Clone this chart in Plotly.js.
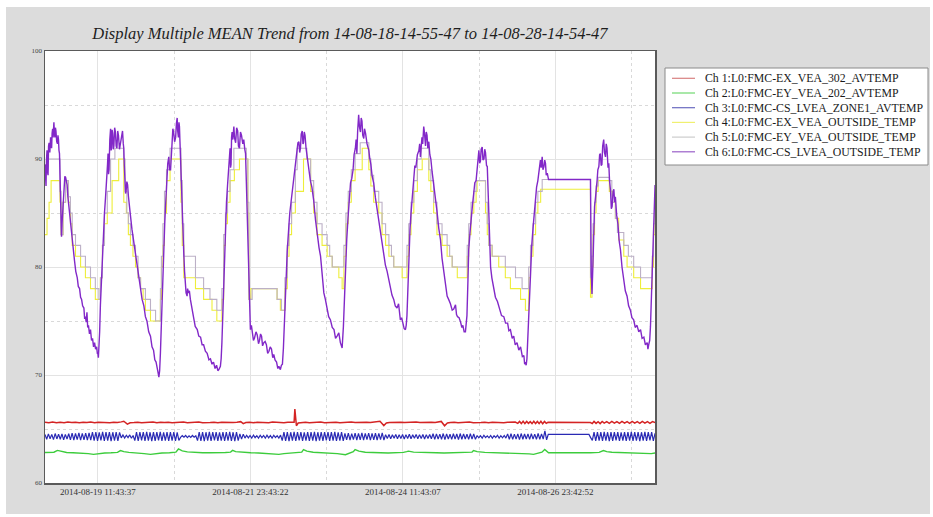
<!DOCTYPE html>
<html>
<head>
<meta charset="utf-8">
<script src="https://cdn.plot.ly/plotly-3.0.1.min.js"></script>
<style>
  html, body { margin: 0; padding: 0; background: #ffffff; }
  #chart { position: absolute; left: 6px; top: 7px; width: 924px; height: 507px; }
</style>
</head>
<body>
<div id="chart"></div>
<script>
// ---------------- DATA ----------------
const startTime = '2014-08-18 14:55:47';
const endTime = '2014-08-28 14:54:47';
const titleText = 'Display Multiple MEAN Trend from 14-08-18-14-55-47 to 14-08-28-14-54-47';

const seriesNames = [
  'Ch 1:L0:FMC-EX_VEA_302_AVTEMP',
  'Ch 2:L0:FMC-EY_VEA_202_AVTEMP',
  'Ch 3:L0:FMC-CS_LVEA_ZONE1_AVTEMP',
  'Ch 4:L0:FMC-EX_VEA_OUTSIDE_TEMP',
  'Ch 5:L0:FMC-EY_VEA_OUTSIDE_TEMP',
  'Ch 6:L0:FMC-CS_LVEA_OUTSIDE_TEMP'
];

const xTickLabels = ['2014-08-19 11:43:37', '2014-08-21 23:43:22', '2014-08-24 11:43:07', '2014-08-26 23:42:52'];
const yTickValues = [60, 70, 80, 90, 100];

// [hours since start, value]
const ch1Points = [[0,65.62],[1.5,65.57],[3,65.64],[4.5,65.59],[6,65.63],[7.5,65.58],[9,65.65],[10.5,65.6],[12,65.63],[13.5,65.57],[15,65.62],[16.5,65.6],[18,65.65],[19.5,65.58],[21,65.62],[22.5,65.6],[24,65.64],[25.5,65.59],[27,65.62],[28.5,65.6],[30,65.66],[31.0,65.72],[32.4,65.45],[33.5,65.58],[35,65.6],[36.5,65.63],[38,65.58],[39.5,65.62],[41,65.6],[42.5,65.64],[44,65.57],[45.5,65.62],[47,65.6],[48.5,65.63],[50,65.58],[51.5,65.62],[53,65.6],[54.5,65.64],[56,65.59],[57.5,65.62],[59,65.6],[60.5,65.65],[62,65.58],[63.5,65.62],[65,65.6],[66.5,65.63],[68,65.57],[69.5,65.62],[71,65.6],[72.5,65.64],[74,65.6],[75.5,65.63],[77,65.68],[78.0,65.5],[79,65.6],[80.5,65.62],[82,65.58],[83.5,65.63],[85,65.6],[86.5,65.62],[88,65.58],[89.5,65.64],[91,65.6],[92.5,65.62],[94,65.58],[95.5,65.63],[97,65.6],[98.0,65.62],[98.3,66.85],[98.6,65.6],[98.9,65.3],[99.6,65.55],[101,65.6],[102.5,65.63],[104,65.58],[105.5,65.62],[107,65.6],[108.5,65.64],[110,65.59],[111.5,65.62],[113,65.6],[114.5,65.63],[116,65.58],[117.5,65.62],[119,65.6],[120.5,65.64],[122,65.6],[123.5,65.62],[125,65.58],[126.5,65.63],[128,65.6],[129.5,65.64],[130.8,65.68],[131.8,65.72],[133.3,65.32],[134.3,65.55],[135.5,65.6],[137,65.62],[138.5,65.58],[140,65.63],[141.5,65.6],[143,65.62],[144.5,65.58],[146,65.64],[147.5,65.6],[149,65.62],[150.5,65.58],[152,65.63],[153.5,65.6],[155,65.65],[155.9,65.7],[157.2,65.3],[158.3,65.55],[159.5,65.6],[161,65.63],[162.5,65.58],[164,65.62],[165.5,65.6],[167,65.64],[168.5,65.58],[170,65.62],[171.5,65.6],[173,65.63],[174.5,65.58],[176,65.62],[177.5,65.6],[179,65.64],[180.5,65.58],[182,65.62],[183.5,65.6],[185,65.64],[186,65.52],[186.7,65.7],[187.4,65.5],[188.1,65.72],[188.8,65.5],[189.5,65.7],[190.2,65.52],[190.9,65.68],[191.6,65.5],[192.3,65.72],[193,65.5],[193.7,65.7],[194.4,65.5],[195.1,65.72],[195.8,65.48],[196.5,65.7],[197.2,65.52],[197.9,65.62],[214.6,65.6],[215.3,65.5],[216,65.7],[216.8,65.52],[217.6,65.68],[218.4,65.5],[219.2,65.7],[220,65.54],[221,65.68],[222,65.52],[223,65.7],[224,65.54],[225,65.68],[226,65.52],[227,65.7],[228,65.55],[229,65.68],[230,65.52],[231,65.7],[232,65.55],[233,65.68],[234,65.52],[235,65.7],[236,65.55],[237,65.68],[238,65.52],[239,65.68],[240,65.6]];

const ch2Points = [[0,62.82],[2,62.8],[3.5,62.85],[4.9,63.02],[6.5,62.9],[8.5,62.82],[11,62.8],[14,62.78],[17,62.72],[19.1,62.65],[21,62.72],[23.5,62.78],[26,62.8],[28.5,62.84],[29.7,63.0],[31,62.9],[33,62.84],[36,62.8],[39,62.72],[41.5,62.65],[43.5,62.72],[46,62.78],[49,62.8],[51.5,62.86],[52.5,63.15],[54,62.98],[56,62.88],[59,62.82],[62,62.8],[65,62.8],[68,62.78],[71,62.82],[73,62.86],[73.8,63.02],[75,62.9],[78,62.82],[81,62.8],[84,62.78],[87,62.74],[90,62.7],[92,62.65],[94,62.72],[96.5,62.78],[99,62.82],[101,62.86],[101.7,63.1],[103,62.95],[105.5,62.85],[109,62.8],[112,62.78],[115,62.72],[118.2,62.62],[120,62.75],[121.3,62.9],[122,63.1],[123.5,62.95],[126,62.85],[129,62.8],[132,62.8],[135,62.78],[138,62.8],[141,62.84],[142.3,62.9],[143,62.95],[145,62.86],[148,62.82],[151,62.8],[154,62.8],[157,62.78],[160,62.8],[163,62.8],[166,62.82],[168,62.86],[168.6,63.0],[170,62.9],[173,62.84],[176,62.82],[179,62.8],[182,62.8],[185,62.78],[188,62.75],[190.5,62.7],[192.2,62.65],[194,62.75],[195.5,62.85],[196.6,63.1],[197.5,62.95],[198.1,62.8],[214.6,62.8],[216,62.8],[218,62.84],[219.7,63.0],[221,62.9],[223,62.85],[226,62.82],[229,62.8],[232,62.78],[235,62.76],[237,62.72],[238.5,62.72],[240,62.78]];

// Ch 3 sampled every 40 minutes from the start
const ch3StepMinutes = 40;
const ch3Values = [
64.5,64.05,64.55,64.1,64.5,64.02,64.58,64.08,64.52,64.05,64.55,64.0,64.5,64.08,64.56,
64.0,64.62,63.98,64.6,64.02,64.64,63.96,64.6,64.0,64.62,63.97,64.65,63.98,64.7,63.92,
64.72,63.9,64.68,63.94,64.74,63.9,64.7,63.92,64.72,63.88,64.7,63.93,64.72,63.9,64.68,
64.18,64.44,64.16,64.42,64.2,64.45,64.15,64.4,63.92,64.7,63.9,64.72,63.94,64.7,63.9,
64.74,63.92,64.7,63.88,64.72,63.9,64.7,63.94,64.74,63.9,64.68,63.92,64.72,63.9,64.7,
63.92,64.72,63.9,64.68,63.94,64.22,64.38,64.24,64.4,64.2,64.36,64.22,64.4,64.24,64.38,
63.92,64.7,63.9,64.72,63.88,64.7,63.92,64.74,63.9,64.7,63.94,64.72,63.9,64.68,63.92,
64.72,63.9,64.7,63.92,64.74,63.9,64.7,63.88,64.72,63.92,64.55,64.06,64.52,64.16,64.42,
64.18,64.4,64.15,64.44,64.2,64.38,64.16,64.42,64.2,64.4,64.15,64.43,64.18,64.4,64.16,
64.42,64.2,64.38,64.16,64.44,63.92,64.7,63.9,64.72,63.88,64.7,63.92,64.74,63.9,64.7,
63.94,64.72,63.9,64.68,63.92,64.72,63.9,64.7,63.92,64.74,63.88,64.7,63.92,64.72,63.9,
64.7,63.94,64.72,63.9,64.7,63.92,64.74,63.9,64.68,63.92,64.72,63.9,64.6,64.0,64.62,
63.98,64.58,64.02,64.62,63.98,64.6,64.0,64.64,63.98,64.6,64.02,64.62,63.97,64.6,64.0,
64.62,63.98,64.6,64.02,64.64,63.98,64.48,64.12,64.5,64.1,64.46,64.14,64.5,64.1,64.48,
64.12,64.5,64.08,64.48,64.12,64.52,64.1,64.46,64.14,64.5,64.1,64.48,64.12,64.5,64.08,
64.48,64.12,64.5,64.1,64.56,64.04,64.55,64.06,64.52,64.05,64.58,64.02,64.55,64.08,64.52,
64.04,64.56,64.06,64.54,64.02,64.58,64.05,64.55,64.08,64.52,64.04,64.56,64.06,64.54,64.04,
64.4,64.18,64.38,64.16,64.42,64.2,64.36,64.18,64.4,64.15,64.38,64.2,64.42,64.16,64.38,
64.18,64.4,64.16,64.55,64.05,64.56,64.04,64.52,64.06,64.55,64.02,64.58,64.05,64.54,64.08,
64.55,64.04,64.56,64.06,64.52,64.05,64.58,64.04,64.55,64.06,64.82,64.0,64.5,64.5,64.5,
64.5,64.5,64.5,64.5,64.5,64.5,64.5,64.5,64.5,64.5,64.5,64.5,64.5,64.5,64.5,
64.5,64.5,64.5,64.5,64.5,64.5,64.5,64.2,63.95,64.7,63.9,64.72,63.92,64.7,63.9,
64.74,63.92,64.7,63.88,64.72,63.9,64.7,63.94,64.72,63.9,64.68,63.92,64.72,63.9,64.7,
63.92,64.74,63.9,64.7,63.92,64.72,63.88,64.7,63.92,64.74,63.9,64.7,63.94,64.72,63.9,
64.6
];

// step series [hours since start, value]
const ch4Points = [[0,83],[0.8,84.5],[1.6,86],[2.4,88],[5.9,86],[6.3,83],[7.1,86],[8.1,88],[9.2,86],[10.0,84],[10.7,82],[12.0,81],[14.0,80],[15.9,79],[17.9,78],[19.8,77],[21.8,79],
[22.6,82],[23.4,84],[24.5,85],[26.4,88],[29.0,90],[31.0,86],[32.0,85],[32.8,83],[33.6,82],[34.6,81],[35.6,80],[36.6,79],[37.6,78],[38.6,77],[39.5,76],[41.5,75],[45.4,77],
[45.8,80],[46.4,82],[47.0,85],[47.8,88],[49.2,90],[53.5,86],[54.0,82],[54.6,79],[59.2,78],[62.4,77],[65.7,76],[67.6,75],[69.6,77],
[70.3,82],[71.0,84],[71.8,86],[72.8,88],[74.5,89],[76.5,90],[79.8,85],[80.2,77],[81.0,78],[91.3,77],[92.6,76],[94.4,78],
[95.3,81],[96.0,83],[97.0,85],[98.5,87],[101.7,90],[104.5,87],[105.7,85],[107.0,83],[109.0,82],[111.0,81],[113.0,80],[115.6,79],[116.9,78],[117.6,81],
[118.4,84],[119.3,86],[120.5,88],[122.0,89],[124.8,91],[127.4,89],[128.2,87.5],[129.3,86],[131.3,85],[132.6,83],[134.0,82],[135.3,81],[137.2,80],[140.5,79],[142.4,81],
[143.1,83],[144.0,85],[145.1,87],[146.5,89],[148.4,90],[151.0,88],[151.8,87],[152.9,85],[154.2,83],[156.2,82],[158.2,81],[160.2,80],[162.2,79],[166.1,81],
[166.7,83],[167.6,85],[168.7,86],[169.6,87],[170.0,88],[173.3,85],[174.0,83],[174.6,82],[175.9,81],[178.5,80],[181.1,79],[183.1,78],[187.1,77],[189.0,76],[190.3,79],
[191.0,81],[192.0,83],[193.0,85],[193.9,86],[195.0,87.2],[214.6,77.2],
[215.2,80],[215.6,83],[216.2,85],[216.8,87],[217.6,88],[222.0,87],[223.2,86],[224.4,84.5],[225.7,82.5],[227.7,81],[229.0,80],[231.6,79],[234.3,78],[238.9,80],[239.4,83],[240,85]];

const ch5Points = [[0,89],[1.2,90],[5.9,87],[6.3,83],[7.1,86],[8.1,88],[9.2,86.5],[10.0,85],[10.7,83],[12.0,82],[14.0,81],[15.9,80],[17.9,79],[19.8,78],[21.2,77],[21.8,79],
[22.6,82],[23.4,85],[24.5,87],[25.8,90],[27.5,91],[30.9,90],[31.5,87],[32.2,85],[32.8,84],[33.6,83],[34.6,82],[35.6,81],[36.6,79],[37.6,78],[39.5,77],[41.5,76],[43.5,75],[45.4,78],
[45.8,81],[46.4,84],[47.0,87],[47.8,89],[49.2,91],[53.5,88],[54.0,84],[54.6,81],[59.2,79],[62.4,78],[64.9,77],[67.6,76],[69.6,78],
[70.3,83],[71.0,85],[71.8,87],[72.8,89],[74.3,91],[79.2,90],[79.8,86],[80.2,77],[81.5,78],[91.3,77],[93.0,76],[94.4,79],
[95.3,82],[96.0,84],[97.0,86],[98.5,89],[99.2,91],[103.0,90],[104.5,88],[105.7,86],[107.0,84],[109.0,83],[111.0,82],[112.0,81],[113.0,80],[117.6,82],
[118.4,85],[119.3,87],[120.5,89],[122.0,90.5],[124.0,91.5],[127.4,90],[128.2,88.5],[129.3,87],[131.3,86],[132.6,84],[134.0,83],[135.3,82],[136.3,81],[137.2,80],[142.4,82],
[143.1,84],[144.0,86],[145.1,88],[146.5,90],[148.0,91],[151.0,89],[151.8,88],[152.9,86],[154.2,84],[156.2,83],[158.2,82],[159.2,81],[160.2,80],[166.1,82],
[166.7,84],[167.6,86],[168.7,87],[169.6,88],[173.3,86],[174.0,84],[174.6,82],[175.9,81],[181.1,80],[185.1,79],[187.7,78],[190.3,80],
[191.0,82],[192.0,84],[193.0,86],[193.9,87],[195.6,88.1],[214.6,79],
[215.2,81],[215.6,84],[216.2,86],[216.8,87.5],[217.6,88.3],[222.0,88],[223.0,86],[224.4,84.5],[225.2,83.2],[227.7,82],[229.5,81],[231.6,80],[234.3,79],[238.9,81],[239.4,84],[240,86]];

const ch6Points = [
[0,89.5],[0.2,88.0],[0.4,87.5],[0.6,90.0],[0.8,90.8],[1.0,88.8],[1.2,88.5],[1.4,91.2],[1.6,91.5],[1.9,90.6],[2.2,92.0],[2.4,91.2],[2.6,91.0],[2.8,92.4],[3.0,92.8],[3.2,92.0],[3.5,93.4],[3.7,92.4],[3.9,92.0],[4.1,92.9],[4.3,92.6],[4.6,91.6],[4.9,91.4],[5.1,92.2],[5.3,91.8],[5.5,90.8],[5.7,90.5],[5.9,88.5],[6.1,86.0],[6.3,84.5],[6.5,82.8],[6.7,84.0],[6.9,85.0],[7.2,86.6],[7.5,87.5],[7.8,88.4],[8.1,88.3],[8.4,88.0],[8.7,87.6],[9.0,86.5],[9.2,86.0],[9.6,85.3],[10.0,84.5],[10.4,83.2],[10.8,82.5],[11.2,81.2],[11.6,80.6],[12.1,79.6],[12.7,79.0],[13.1,78.2],[13.6,78.0],[14.0,77.2],[14.4,77.0],[14.8,76.4],[15.3,76.2],[15.6,75.2],[15.9,75.4],[16.2,74.9],[16.5,75.8],[16.8,74.4],[17.1,74.6],[17.5,73.8],[17.9,74.2],[18.3,73.2],[18.7,73.4],[19.1,72.6],[19.5,73.0],[19.9,72.4],[20.3,72.6],[20.6,72.0],[20.8,72.0],[21.0,71.6],[21.2,72.4],
[21.5,74.0],[21.8,76.5],[22.2,79.0],[22.5,81.0],[22.8,82.6],[23.0,84.0],[23.4,85.0],[23.8,86.4],[24.1,87.4],[24.4,88.0],[24.6,89.5],[24.8,90.5],[25.0,88.6],[25.2,89.0],[25.5,91.8],[25.8,92.8],[26.0,90.8],[26.2,91.0],[26.4,92.7],[26.6,92.4],[26.9,90.9],[27.1,91.2],[27.4,92.9],[27.7,92.5],[28.0,91.2],[28.3,91.0],[28.6,92.6],[28.9,92.2],[29.3,90.9],[29.7,91.5],[30.1,92.2],[30.5,92.6],[30.8,91.4],[31.0,91.0],[31.2,89.4],[31.5,88.0],[31.7,86.8],[31.9,87.0],[32.2,87.9],[32.5,87.6],[32.8,86.6],[33.0,86.0],[33.3,85.4],[33.6,84.8],[34.2,83.5],[34.8,82.5],[35.5,81.0],[36.3,80.0],[36.9,78.8],[37.6,78.0],[38.2,77.0],[38.9,76.4],[39.5,75.4],[40.1,75.0],[40.8,74.0],[41.5,73.6],[42.1,72.6],[42.7,72.3],[43.2,71.4],[43.7,71.2],[44.1,70.4],[44.5,70.2],[44.8,69.8],[45.1,70.4],
[45.4,72.0],[45.7,74.5],[46.0,77.0],[46.4,79.8],[46.7,81.9],[47.1,84.0],[47.4,85.5],[47.7,87.2],[48.0,88.5],[48.3,89.6],[48.7,90.2],[49.0,89.0],[49.4,89.0],[49.7,91.0],[50.0,91.5],[50.3,92.8],[50.6,92.5],[51.0,91.6],[51.4,92.0],[51.7,93.3],[52.0,93.8],[52.2,92.6],[52.5,92.0],[52.7,93.4],[52.9,93.0],[53.1,91.6],[53.3,90.0],[53.6,88.0],[53.9,86.0],[54.2,83.5],[54.6,81.3],[54.9,79.6],[55.2,78.5],[55.5,77.6],[55.9,77.3],[56.1,78.0],[56.4,77.6],[56.8,77.8],[57.2,77.0],[57.8,76.0],[58.4,75.4],[59.1,74.5],[59.9,74.2],[60.5,73.6],[61.2,73.5],[61.8,72.8],[62.4,72.8],[63.1,72.2],[63.8,72.0],[64.5,71.4],[65.1,71.5],[65.7,71.0],[66.3,71.2],[66.9,70.6],[67.5,70.9],[68.0,70.4],[68.4,70.5],[69.0,70.8],
[69.3,71.5],[69.6,73.0],[70.0,76.0],[70.3,79.0],[70.7,82.0],[71.0,84.0],[71.4,86.0],[71.8,87.5],[72.0,88.2],[72.3,88.7],[72.5,90.4],[72.8,91.0],[73.0,89.2],[73.2,89.5],[73.4,92.0],[73.6,92.5],[73.9,91.8],[74.3,93.0],[74.6,91.9],[75.0,91.5],[75.4,92.9],[75.8,92.6],[76.1,91.2],[76.5,91.0],[76.9,92.5],[77.3,92.2],[77.8,91.4],[78.2,91.8],[78.6,90.9],[78.9,90.5],[79.2,88.0],[79.5,85.0],[79.9,80.5],[80.2,77.3],[80.5,75.2],[80.8,74.2],[81.2,74.6],[81.6,74.0],[82.0,73.2],[82.4,73.4],[83.0,74.0],[83.5,73.7],[84.0,72.9],[84.4,73.2],[84.8,73.8],[85.2,73.6],[85.6,72.7],[86.1,73.0],[86.6,73.1],[87.1,72.8],[87.6,72.0],[88.1,72.2],[88.6,72.6],[89.1,72.4],[89.6,71.6],[90.0,71.9],[90.5,71.4],[91.1,71.2],[91.6,70.6],[92.0,70.8],[92.6,70.5],[93.0,70.9],[93.4,71.0],
[93.8,72.5],[94.2,74.5],[94.8,78.5],[95.3,81.5],[95.6,83.0],[96.0,84.0],[96.3,85.0],[96.6,85.6],[97.0,86.4],[97.4,87.0],[97.7,88.0],[98.1,88.5],[98.6,89.8],[99.2,90.5],[99.5,91.5],[99.9,91.6],[100.2,90.6],[100.5,91.0],[100.8,92.3],[101.2,92.6],[101.5,91.4],[101.7,91.5],[102.0,92.5],[102.3,92.2],[102.7,91.0],[103.1,90.2],[103.7,89.0],[104.4,88.0],[105.0,87.4],[105.7,86.2],[106.4,84.4],[107.1,83.0],[107.8,81.8],[108.4,81.0],[109.0,79.0],[109.7,77.6],[110.3,77.0],[110.9,76.4],[111.6,75.4],[112.3,75.1],[113.0,74.4],[113.7,74.2],[114.3,73.4],[114.9,73.6],[115.6,73.9],[116.2,73.0],[116.6,72.8],[116.9,72.5],
[117.4,74.5],[117.8,77.5],[118.2,80.0],[118.7,82.5],[119.2,84.5],[119.7,86.4],[120.2,87.8],[120.7,88.2],[121.2,89.0],[121.6,90.4],[122.1,91.0],[122.4,91.8],[122.7,90.5],[123.0,92.6],[123.4,94.1],[123.7,93.0],[124.1,92.5],[124.4,93.8],[124.7,93.5],[125.0,92.2],[125.4,91.9],[125.7,92.8],[126.1,92.4],[126.7,91.4],[127.4,90.8],[127.8,90.0],[128.2,89.5],[128.7,88.4],[129.3,87.8],[130.0,86.4],[130.6,85.4],[131.3,84.2],[132.0,83.4],[132.6,82.0],[133.2,81.2],[133.9,80.2],[134.6,79.6],[135.2,78.8],[135.9,78.2],[136.5,77.4],[137.2,77.0],[137.8,76.4],[138.5,76.2],[139.1,76.6],[139.8,75.1],[140.3,75.3],[140.8,74.8],[141.3,74.3],[141.8,74.2],
[142.1,74.6],[142.4,75.5],[142.8,78.5],[143.1,81.6],[143.6,83.5],[144.0,85.0],[144.5,86.8],[145.1,88.4],[145.5,89.4],[145.9,89.2],[146.5,90.4],[147.1,90.8],[147.4,91.4],[147.7,90.2],[148.0,91.6],[148.3,92.0],[148.6,91.4],[149.0,93.0],[149.3,92.4],[149.7,91.2],[150.0,92.5],[150.3,92.2],[150.6,91.0],[151.0,91.6],[151.4,90.4],[151.8,90.0],[152.3,88.8],[152.9,87.8],[153.5,86.6],[154.2,85.2],[154.9,83.6],[155.6,82.5],[156.2,80.8],[156.9,79.5],[157.5,78.2],[158.2,77.3],[158.8,77.0],[159.5,76.6],[160.2,76.0],[160.8,76.1],[161.5,76.5],[161.9,75.6],[162.3,75.4],[162.9,75.3],[163.5,74.9],[164.0,74.4],[164.4,74.6],[164.9,74.0],[165.4,74.0],
[166.0,75.5],[166.4,78.8],[166.7,81.6],[167.2,83.2],[167.6,84.5],[168.2,85.8],[168.7,86.9],[169.1,87.8],[169.6,88.0],[170.2,89.8],[170.7,90.8],[171.0,89.6],[171.3,89.8],[171.6,90.9],[172.0,91.1],[172.3,89.9],[172.7,90.0],[173.0,90.9],[173.3,90.6],[173.7,89.4],[174.0,89.3],[174.4,86.5],[174.7,84.0],[175.0,81.8],[175.3,80.0],[175.8,79.0],[176.3,78.4],[176.8,77.6],[177.2,77.2],[178.0,76.8],[178.8,76.2],[179.6,75.5],[180.5,75.4],[181.2,74.8],[182.0,74.8],[182.5,74.1],[183.1,74.2],[183.8,73.4],[184.4,73.6],[185.0,72.8],[185.7,73.0],[186.4,72.3],[187.1,72.6],[187.8,71.7],[188.4,71.8],[188.7,71.0],[189.0,71.2],[189.3,70.9],[189.6,71.5],
[190.2,75.0],[190.6,77.8],[191.0,80.0],[191.5,82.0],[192.0,83.6],[192.5,85.0],[193.0,86.2],[193.4,87.4],[193.9,88.0],[194.4,89.2],[194.9,89.9],[195.2,89.2],[195.6,90.2],[195.9,89.0],[196.3,89.3],[196.6,89.9],[196.9,89.6],[197.2,88.5],[197.6,88.7],[198.1,88.1],[214.6,88.1],
[214.9,79.5],[215.2,77.5],[215.6,80.5],[215.9,85.0],[216.2,85.6],[216.6,86.5],[216.9,87.8],[217.2,88.0],[217.5,89.0],[217.9,89.3],[218.2,90.4],[218.5,90.5],[218.8,89.4],[219.1,89.5],[219.4,91.2],[219.8,91.8],[220.1,90.6],[220.5,90.2],[220.8,91.4],[221.1,91.0],[221.5,89.2],[221.8,89.6],[222.1,88.0],[222.5,87.0],[222.8,85.4],[223.1,85.6],[223.5,87.0],[223.8,87.2],[224.1,86.0],[224.4,86.5],[224.9,84.8],[225.4,84.0],[225.9,82.4],[226.4,81.6],[227.0,80.0],[227.7,79.0],[228.3,77.8],[229.0,77.3],[229.6,76.4],[230.3,76.0],[230.9,75.3],[231.6,75.1],[232.2,74.4],[232.9,74.6],[233.6,74.0],[234.3,74.2],[234.9,73.4],[235.6,73.5],[236.2,72.8],[236.9,73.0],[237.2,72.4],[237.5,72.8],[237.9,73.2],[238.2,74.5],[238.5,77.0],[238.8,80.0],[239.1,82.5],[239.5,84.5],[239.8,86.4],[240.0,87.6]];

// ---------------- BUILD ----------------
function parseUTC(s) {
  const m = s.match(/(\d+)-(\d+)-(\d+) (\d+):(\d+):(\d+)/);
  return Date.UTC(+m[1], +m[2] - 1, +m[3], +m[4], +m[5], +m[6]);
}
function fmt(ms) {
  return new Date(ms).toISOString().replace('T', ' ').slice(0, 19);
}
const startMs = parseUTC(startTime);
const hToDate = h => fmt(startMs + h * 3600000);

function fromPoints(pts) {
  return { x: pts.map(p => hToDate(p[0])), y: pts.map(p => p[1]) };
}
const ch3 = {
  x: ch3Values.map((v, i) => fmt(startMs + i * ch3StepMinutes * 60000)),
  y: ch3Values
};

const colors = ['#d42424', '#3ccc3c', '#2a2ab4', '#eeee3a', '#bcb0c6', '#8228c8'];
const legendColors = ['#d88080', '#70d870', '#6a6ac0', '#f0f070', '#cccccc', '#9a60c8'];
const datasets = [fromPoints(ch1Points), fromPoints(ch2Points), ch3, fromPoints(ch4Points), fromPoints(ch5Points), fromPoints(ch6Points)];
const shapesKind = ['linear', 'linear', 'linear', 'hv', 'hv', 'linear'];
const widths = [1.5, 1.4, 1.2, 1.1, 1.1, 1.4];

const traces = datasets.map((d, i) => ({
  type: 'scatter',
  mode: 'lines',
  name: seriesNames[i],
  x: d.x,
  y: d.y,
  line: { color: colors[i], width: widths[i], shape: shapesKind[i] },
  hoverinfo: 'skip',
  showlegend: false
}));

const tickMs = xTickLabels.map(parseUTC);
const half = (tickMs[1] - tickMs[0]) / 2;
const minorVals = [];
tickMs.forEach(t => { minorVals.push(fmt(t - half)); minorVals.push(fmt(t + half)); });

const serif = 'Liberation Serif, Times New Roman, serif';

// plot-area geometry (page pixels) used to place the legend box
const W = 924, H = 507, OFFX = 6, OFFY = 7;
const M = { l: 39, r: 275, t: 44, b: 31 };
const plotL = OFFX + M.l, plotR = OFFX + W - M.r, plotT = OFFY + M.t, plotB = OFFY + H - M.b;
const px = x => (x - plotL) / (plotR - plotL);
const py = y => (plotB - y) / (plotB - plotT);

const legendShapes = [{
  type: 'rect', xref: 'paper', yref: 'paper',
  x0: px(665), x1: px(928), y0: py(165), y1: py(68),
  fillcolor: '#ffffff', line: { color: '#8a8a8a', width: 1 }, layer: 'above'
}];
const legendAnn = [];
seriesNames.forEach((name, i) => {
  const yy = 78.3 + 14.7 * i;
  legendShapes.push({
    type: 'line', xref: 'paper', yref: 'paper',
    x0: px(672), x1: px(695), y0: py(yy), y1: py(yy),
    line: { color: legendColors[i], width: 1.2 }, layer: 'above'
  });
  legendAnn.push({
    xref: 'paper', yref: 'paper', x: px(703), y: py(yy),
    xanchor: 'left', yanchor: 'middle', showarrow: false,
    text: name, font: { family: serif, size: 11.8, color: '#1a1a1a' }
  });
});

const layout = {
  width: W,
  height: H,
  paper_bgcolor: '#dcdcdc',
  plot_bgcolor: '#ffffff',
  margin: M,
  title: {
    text: '<i>' + titleText + '</i>',
    font: { family: serif, size: 16.5, color: '#1e1e1e' },
    x: 0.5, xref: 'paper', xanchor: 'center',
    y: 0.949, yref: 'container', yanchor: 'middle'
  },
  showlegend: false,
  shapes: legendShapes,
  annotations: legendAnn,
  xaxis: {
    type: 'date',
    range: [startTime, endTime],
    tickmode: 'array',
    tickvals: xTickLabels,
    ticktext: xTickLabels,
    ticks: '',
    tickfont: { family: serif, size: 9, color: '#333' },
    showgrid: true, gridcolor: '#e3e3e3', gridwidth: 1,
    minor: { tickmode: 'array', tickvals: minorVals, showgrid: true, gridcolor: '#d9d9d9', griddash: '3px,3px', ticks: '' },
    showline: true, linecolor: '#5a5a5a', linewidth: 1.5, mirror: true,
    zeroline: false, fixedrange: true
  },
  yaxis: {
    range: [60, 100],
    tickmode: 'array',
    tickvals: yTickValues,
    ticktext: yTickValues.map(String),
    ticks: '',
    tickfont: { family: serif, size: 7, color: '#444' },
    showgrid: true, gridcolor: '#e3e3e3', gridwidth: 1,
    minor: { dtick: 5, showgrid: true, gridcolor: '#d9d9d9', griddash: '3px,3px', ticks: '' },
    showline: true, linecolor: '#5a5a5a', linewidth: 1.5, mirror: true,
    zeroline: false, fixedrange: true
  }
};

Plotly.newPlot('chart', traces, layout, { displayModeBar: false, staticPlot: true });
</script>
</body>
</html>
